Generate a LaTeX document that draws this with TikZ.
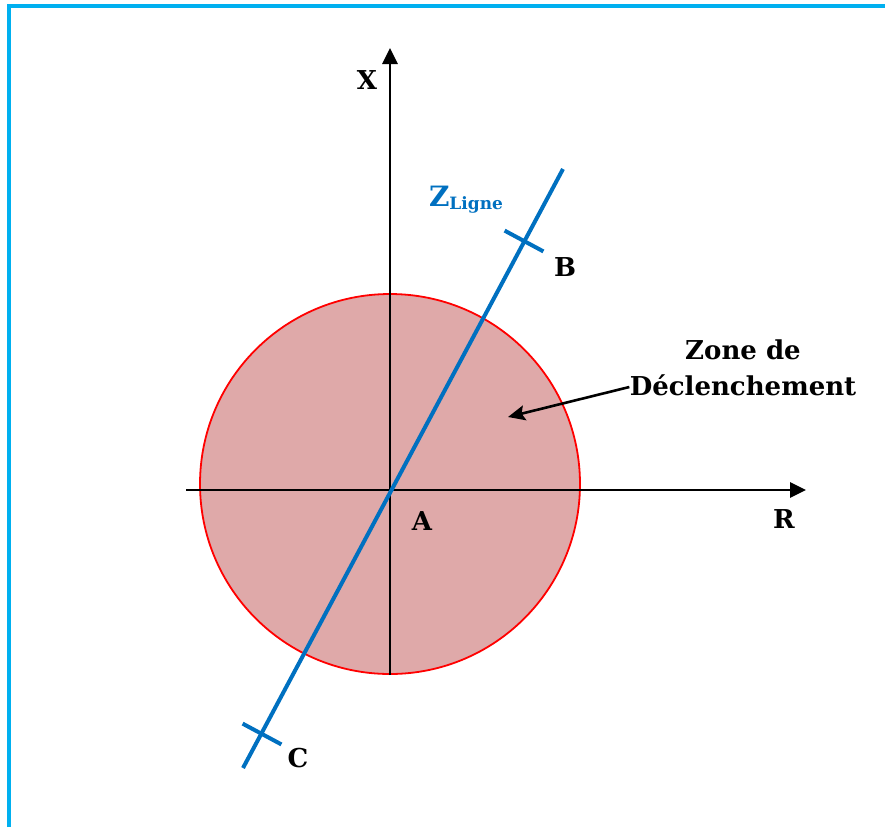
\documentclass[tikz,border=0pt]{standalone}
\usepackage{fontspec}
\setmainfont{DejaVu Serif}
\usetikzlibrary{arrows.meta,calc}
\definecolor{FrameBlue}{RGB}{0,176,240}
\definecolor{LineBlue}{RGB}{0,112,192}
\definecolor{ZoneFill}{RGB}{223,169,169}
\tikzset{
  axis/.style={-{Triangle[length=8pt,width=7.5pt]},line width=1.4pt,draw=black},
  pointer/.style={-{Stealth[length=8.5pt,width=7.5pt,inset=1.5pt]},line width=1.3pt,draw=black},
  impline/.style={line width=2pt,draw=LineBlue},
  tick/.style={line width=2pt,draw=LineBlue},
  zone/.style={fill=ZoneFill,draw=red,line width=0.9pt},
  lbl/.style={font=\fontsize{13}{18}\selectfont\bfseries,inner sep=0pt},
  bluelbl/.style={lbl,text=LineBlue}
}

\begin{document}
\begin{tikzpicture}[x=0.5pt,y=-0.5pt]
  \useasboundingbox (0,0) rectangle (885,827);
  % frame (cut on the right and bottom)
  \draw[FrameBlue,line width=1.6pt] (9,827) -- (9,6) -- (885,6);
  % trip zone
  \coordinate (A) at (390,490);
  \path[zone] (390,484) circle (190);
  % axes
  \coordinate (xlow) at (390,675);
  \coordinate (xtop) at (390,48);
  \coordinate (rleft) at (186,490);
  \coordinate (rtip) at (806,490);
  \draw[axis] (xlow) -- (xtop);
  \draw[axis] (rleft) -- (rtip);
  % line impedance
  \coordinate (lstart) at (243,768);
  \coordinate (lend) at (563,169);
  \draw[impline] (lstart) -- (lend);
  \coordinate (B) at (524,241);
  \coordinate (C) at (262,734);
  \draw[tick] ($(B)+(-19.4,-10.4)$) -- ($(B)+(19.4,10.4)$);
  \draw[tick] ($(C)+(-19.4,-10.4)$) -- ($(C)+(19.4,10.4)$);
  % labels
  \node[lbl] (xlab) at (367,80) {X};
  \node[lbl] (rlab) at (784,519) {R};
  \node[lbl] (alab) at (422,521) {A};
  \node[lbl] (blab) at (565,267) {B};
  \node[lbl] (clab) at (298,758) {C};
  \node[bluelbl] (zlab) at (466,200) {\fontsize{14}{16}\selectfont Z\raisebox{-1.5pt}{\fontsize{8.5}{10}\selectfont Ligne}};
  \node[lbl,align=center] (zone) at (743,368) {Zone de\\D\'eclenchement};
  \coordinate (zonetip) at (508,417);
  \draw[pointer] ([yshift=-9.5pt]zone.west) -- (zonetip);
\end{tikzpicture}
\end{document}
